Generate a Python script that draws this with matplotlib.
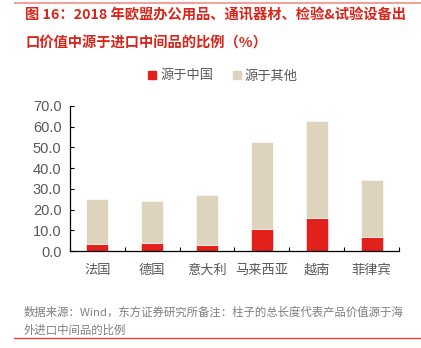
import numpy as np
import matplotlib as mpl
from matplotlib import pyplot as plt
from matplotlib.lines import Line2D

plt.rcParams['font.family'] = ['Noto Sans CJK SC', 'DejaVu Sans']

countries = ["法国", "德国", "意大利", "马来西亚", "越南", "菲律宾"]
china = [3.5, 4.0, 3.0, 10.6, 15.9, 6.7]
total = [25.0, 24.0, 27.2, 52.4, 62.7, 34.5]
other = [t - c for t, c in zip(total, china)]

red = "#E2211C"
beige = "#DED4BD"
grey = "#595959"

fig = plt.figure(figsize=(4.21, 3.48), dpi=100)
ax = fig.add_axes([0.166, 0.278, 0.782, 0.418])

x = np.arange(len(countries))
ax.bar(x, china, width=0.4, color=red, label="源于中国", edgecolor="white", linewidth=0.4)
ax.bar(x, other, width=0.4, bottom=china, color=beige, label="源于其他", edgecolor="white", linewidth=0.4)

ax.set_xlim(-0.5, len(countries) - 0.5)
ax.set_ylim(0, 70)
ax.set_yticks(np.arange(0, 71, 10))
ax.set_yticklabels([f"{v:.1f}" for v in range(0, 71, 10)], family="Liberation Sans")
ax.set_xticks(x)
ax.set_xticklabels(countries)
ax.set_xticks(np.arange(-0.5, len(countries), 1), minor=True)

for s in ["top", "right"]:
    ax.spines[s].set_visible(False)
for s in ["left", "bottom"]:
    ax.spines[s].set_color("black")
    ax.spines[s].set_linewidth(0.9)

ax.tick_params(axis="y", direction="in", length=3, width=0.8, labelsize=10.5, labelcolor=grey, pad=6)
ax.tick_params(axis="x", which="major", length=0, labelsize=9.5, labelcolor=grey, pad=9)
ax.tick_params(axis="x", which="minor", direction="in", length=3, width=0.8)

handles = [Line2D([], [], marker="s", linestyle="", markersize=5.5, color=red),
           Line2D([], [], marker="s", linestyle="", markersize=5.5, color=beige)]
fig.legend(handles, ["源于中国", "源于其他"], loc="center", bbox_to_anchor=(0.53, 0.782),
           ncol=2, frameon=False, fontsize=9.5, handlelength=0.6, handletextpad=0.3,
           columnspacing=1.5, labelcolor=grey)

# title
fig.text(0.06, 0.955, "图 16：2018 年欧盟办公用品、通讯器材、检验&试验设备出",
         fontsize=10.3, fontweight="bold", color="#D9261C", va="center", ha="left")
fig.text(0.06, 0.875, "口价值中源于进口中间品的比例（%）",
         fontsize=10.3, fontweight="bold", color="#D9261C", va="center", ha="left")

# footnote
fig.text(0.055, 0.103, "数据来源：Wind，东方证券研究所备注：柱子的总长度代表产品价值源于海",
         fontsize=8.2, color="#7F7F7F", va="center", ha="left")
fig.text(0.055, 0.052, "外进口中间品的比例",
         fontsize=8.2, color="#7F7F7F", va="center", ha="left")

# top and bottom rules
fig.add_artist(Line2D([0.036, 1.0], [0.991, 0.991], color="#F2A29C", linewidth=1.5))
fig.add_artist(Line2D([0.033, 1.0], [0.029, 0.029], color="#E8403A", linewidth=1.0))

fig.savefig("out.png", dpi=100)
